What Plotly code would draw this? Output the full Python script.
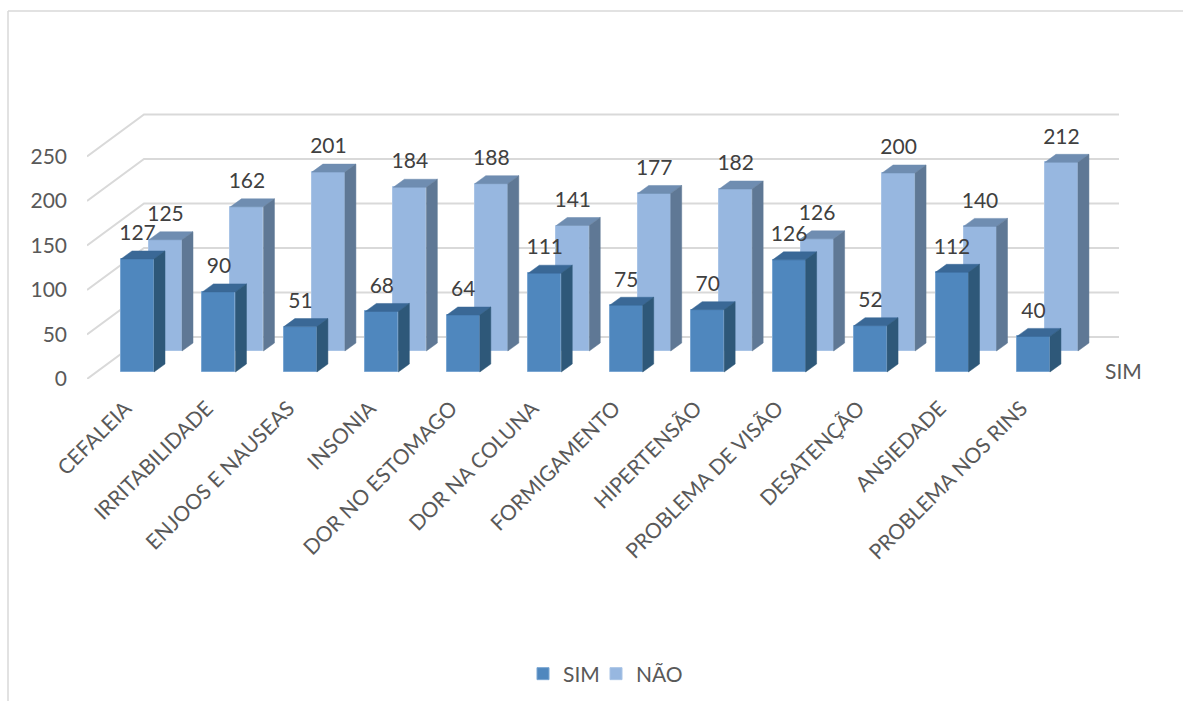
import plotly.graph_objects as go

categories = ["CEFALEIA", "IRRITABILIDADE", "ENJOOS E NAUSEAS", "INSONIA", "DOR NO ESTOMAGO",
              "DOR NA COLUNA", "FORMIGAMENTO", "HIPERTENSÃO", "PROBLEMA DE VISÃO",
              "DESATENÇÃO", "ANSIEDADE", "PROBLEMA NOS RINS"]
sim = [127, 90, 51, 68, 64, 111, 75, 70, 126, 52, 112, 40]
nao = [125, 162, 201, 184, 188, 141, 177, 182, 126, 200, 140, 212]
y_ticks = [0, 50, 100, 150, 200, 250]

W, H = 1183, 701
PX_X = 81.45          # pixels per category
PX_Y = 0.89           # pixels per value unit
PLOT_L, PLOT_B = 87, 379
FIRST_CENTER = 137.5

BAR_W = 33 / PX_X
# Oblique projection: how far one bar's depth and the gap between rows shift on screen
SIDE_X, SIDE_Y = 11 / PX_X, 8 / PX_Y
ROW_X, ROW_Y = 28 / PX_X, 21 / PX_Y
BASE_FRONT = (PLOT_B - 372) / PX_Y
BASE_BACK = BASE_FRONT + ROW_Y
WALL_X = (144 - FIRST_CENTER) / PX_X
WALL_Y = (PLOT_B - 337) / PX_Y
GRID_END = (1119 - FIRST_CENTER) / PX_X
GRID_START = (PLOT_L - FIRST_CENTER) / PX_X
LABEL_GAP = 24 / PX_Y
TICK_SHIFT = 12 / PX_X  # rotated labels end left of the bar centre


def faces(values, shift, base):
    """Polygons for the top and right faces of one row of bars."""
    top_x, top_y, side_x, side_y = [], [], [], []
    for i, v in enumerate(values):
        l = i + shift - BAR_W / 2
        r = l + BAR_W
        t = base + v
        top_x += [l, r, r + SIDE_X, l + SIDE_X, l, None]
        top_y += [t, t, t + SIDE_Y, t + SIDE_Y, t, None]
        side_x += [r, r + SIDE_X, r + SIDE_X, r, r, None]
        side_y += [base, base + SIDE_Y, t + SIDE_Y, t, base, None]
    return top_x, top_y, side_x, side_y


def polygon(x, y, color):
    return go.Scatter(x=x, y=y, mode="lines", fill="toself", fillcolor=color,
                      line=dict(color=color, width=0.5), hoverinfo="skip", showlegend=False)


def paper_x(px):
    return (px - PLOT_L) / (W - PLOT_L)


def paper_y(px):
    return (PLOT_B - px) / PLOT_B


def legend_entry(px):
    """One-entry legend, so each series can sit at its own position."""
    return dict(orientation="h", x=paper_x(px), y=paper_y(674), xanchor="left", yanchor="middle",
                font=dict(size=21, color="#595959"), bgcolor="rgba(0,0,0,0)",
                itemclick=False, itemdoubleclick=False)


fig = go.Figure()

# Back row first so the front row paints over it
fig.add_trace(go.Bar(
    x=[i + ROW_X for i in range(len(nao))], y=nao, base=BASE_BACK, width=BAR_W, name="NÃO",
    legend="legend2", marker=dict(color="#97B7E0", line=dict(color="#A9C4E6", width=1))))
fig.add_trace(go.Bar(
    x=list(range(len(sim))), y=sim, base=BASE_FRONT, width=BAR_W, name="SIM",
    legend="legend", marker=dict(color="#4F87BE", line=dict(color="#7AA6D2", width=1))))

tx, ty, sx, sy = faces(nao, ROW_X, BASE_BACK)
fig.add_trace(polygon(tx, ty, "#6F8DB1"))
fig.add_trace(polygon(sx, sy, "#5F7895"))
tx, ty, sx, sy = faces(sim, 0, BASE_FRONT)
fig.add_trace(polygon(tx, ty, "#3A6896"))
fig.add_trace(polygon(sx, sy, "#2E5879"))

# Value labels above each bar's front face
fig.add_trace(go.Scatter(
    x=[i + ROW_X for i in range(len(nao))], y=[BASE_BACK + v + LABEL_GAP for v in nao],
    text=[str(v) for v in nao], mode="text", textfont=dict(size=21, color="#404040"),
    textposition="middle center", hoverinfo="skip", showlegend=False))
fig.add_trace(go.Scatter(
    x=list(range(len(sim))), y=[BASE_FRONT + v + LABEL_GAP for v in sim],
    text=[str(v) for v in sim], mode="text", textfont=dict(size=21, color="#404040"),
    textposition="middle center", hoverinfo="skip", showlegend=False))

# Gridlines run along the side wall, then across the back wall
shapes = []
for v in y_ticks:
    shapes.append(dict(
        type="path", xref="x", yref="y", layer="below",
        path=f"M {GRID_START} {v} L {WALL_X} {v + WALL_Y} L {GRID_END} {v + WALL_Y}",
        line=dict(color="#D9D9D9", width=2)))

# Chart frame, open at the bottom
shapes.append(dict(type="line", xref="paper", yref="paper", x0=paper_x(8), x1=paper_x(8),
                   y0=paper_y(11), y1=paper_y(701), line=dict(color="#D9D9D9", width=1.5)))
shapes.append(dict(type="line", xref="paper", yref="paper", x0=paper_x(8), x1=paper_x(1183),
                   y0=paper_y(11), y1=paper_y(11), line=dict(color="#D9D9D9", width=1.5)))

fig.update_layout(
    width=W, height=H, autosize=False,
    margin=dict(l=PLOT_L, r=0, t=0, b=H - PLOT_B, autoexpand=False),
    plot_bgcolor="white", paper_bgcolor="white",
    font=dict(family="Lato, Carlito, sans-serif", size=21, color="#595959"),
    shapes=shapes, bargap=0, barmode="overlay",
    showlegend=True,
    legend=legend_entry(523),
    legend2=legend_entry(596),
    annotations=[dict(text="SIM", xref="paper", yref="paper", x=paper_x(1123), y=paper_y(370),
                      xanchor="center", yanchor="middle",
                      showarrow=False, font=dict(size=21, color="#595959"))],
    xaxis=dict(range=[GRID_START, (W - FIRST_CENTER) / PX_X], tickmode="array",
               tickvals=[i - TICK_SHIFT for i in range(len(categories))], ticktext=categories,
               tickangle=-45, showgrid=False, zeroline=False, showline=False, ticks="",
               ticklabelstandoff=12, tickfont=dict(size=21, color="#595959")),
    yaxis=dict(range=[0, PLOT_B / PX_Y], tickmode="array", tickvals=y_ticks,
               showgrid=False, zeroline=False, showline=False, ticks="",
               ticklabelstandoff=19, tickfont=dict(size=21, color="#595959")),
)

fig.write_html("out.html")
